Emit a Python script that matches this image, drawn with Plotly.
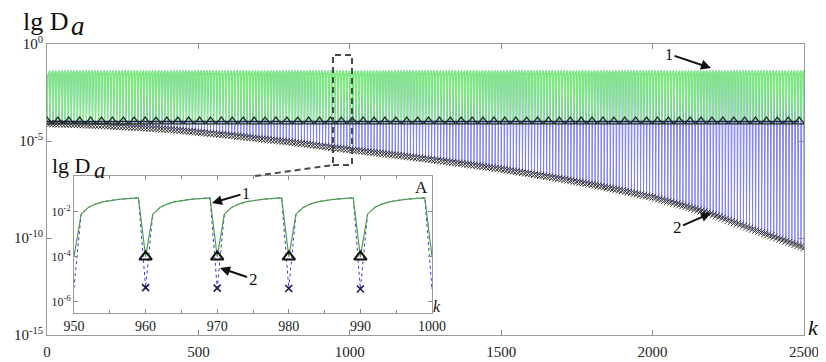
import numpy as np
import plotly.graph_objects as go

# ------------------------------------------------------------------ data
K_MAX = 2500
PERIOD = 10
curve1_period_lg = [-4.0, -2.1, -1.8, -1.65, -1.55, -1.49, -1.45, -1.42, -1.39, -1.37]
# lg D_a of curve 2 at its minima (the "x" markers), read every 100 steps
minima_k = [0, 100, 200, 300, 400, 500, 600, 700, 800, 900, 1000, 1100, 1200,
            1300, 1400, 1500, 1600, 1700, 1800, 1900, 2000, 2100, 2200, 2300,
            2400, 2500]
minima_lg = [-4.10, -4.15, -4.22, -4.30, -4.40, -4.55, -4.70, -4.88, -5.05,
             -5.25, -5.45, -5.63, -5.82, -6.02, -6.23, -6.45, -6.70, -6.96,
             -7.25, -7.56, -7.90, -8.33, -8.80, -9.38, -9.95, -10.50]
# level of the triangle markers (minima of curve 1)
triangle_level_lg = -4.0
triangle_k_main = list(range(0, 2501, 36))
inset_marker_k = [960, 970, 980, 990]

main_x_ticks = [0, 500, 1000, 1500, 2000, 2500]
main_y_ticks = [1e-15, 1e-10, 1e-5, 1.0]
main_y_ticktext = ["10<sup>-15</sup>", "10<sup>-10</sup>", "10<sup>-5</sup>", "10<sup>0</sup>"]
inset_x_ticks = [950, 960, 970, 980, 990, 1000]
inset_y_ticks = [1e-6, 1e-4, 1e-2]
inset_y_ticktext = ["10<sup>-6</sup>", "10<sup>-4</sup>", "10<sup>-2</sup>"]

# ------------------------------------------------------------------ series
k = np.arange(0, K_MAX + 1)
n_periods = len(k) // PERIOD + 1
curve1_lg = np.tile(curve1_period_lg, n_periods)[:len(k)]
curve2_lg = curve1_lg.copy()
is_min = (k % PERIOD) == 0
curve2_lg[is_min] = np.interp(k[is_min], minima_k, minima_lg)
curve1 = 10.0 ** curve1_lg
curve2 = 10.0 ** curve2_lg

min_k = k[is_min]
min_v = curve2[is_min]
tri_y_main = [10.0 ** triangle_level_lg] * len(triangle_k_main)
ins_tri_y = [curve1[kk] for kk in inset_marker_k]
ins_x_y = [curve2[kk] for kk in inset_marker_k]

# ------------------------------------------------------------------ geometry helpers
# the page body has an 8px margin, so the figure is drawn 8px smaller and
# everything below is expressed in the target picture's pixel coordinates
OFF = 8
W_FIG, H_FIG = 826 - OFF, 362 - OFF
L, T, R, B = 47, 44, 22, 27          # plot box in target pixels
PW, PH = 826 - L - R, 362 - T - B


def px(x):
    return (x - L) / PW


def py(y):
    return (T + PH - y) / PH


SERIF = "Liberation Serif"

fig = go.Figure()

# main panel
fig.add_trace(go.Scatter(x=k, y=curve2, mode="lines",
                         line=dict(color="#8080f0", width=1), xaxis="x", yaxis="y"))
fig.add_trace(go.Scatter(x=k, y=curve1, mode="lines",
                         line=dict(color="#78ee78", width=1.3), xaxis="x", yaxis="y"))
fig.add_trace(go.Scatter(x=min_k, y=min_v, mode="markers",
                         marker=dict(symbol="x-thin-open", size=7, color="#333333",
                                     line=dict(width=1, color="#333333")),
                         xaxis="x", yaxis="y"))
fig.add_trace(go.Scatter(x=triangle_k_main, y=tri_y_main, mode="lines+markers",
                         line=dict(color="#1c1c50", width=1.5),
                         marker=dict(symbol="triangle-up-open", size=9,
                                     color="#1a2e1a", line=dict(width=1.3)),
                         xaxis="x", yaxis="y"))

# inset A
fig.add_trace(go.Scatter(x=k, y=curve2, mode="lines",
                         line=dict(color="#3c3cd0", width=1, dash="dot"),
                         xaxis="x2", yaxis="y2"))
fig.add_trace(go.Scatter(x=k, y=curve1, mode="lines",
                         line=dict(color="#4c9e4c", width=1.2),
                         xaxis="x2", yaxis="y2"))
fig.add_trace(go.Scatter(x=inset_marker_k, y=ins_tri_y, mode="markers",
                         marker=dict(symbol="triangle-up-open", size=11, color="#111111",
                                     line=dict(width=2, color="#111111")),
                         xaxis="x2", yaxis="y2"))
fig.add_trace(go.Scatter(x=inset_marker_k, y=ins_x_y, mode="markers",
                         marker=dict(symbol="x-thin-open", size=7, color="#1a1a50",
                                     line=dict(width=1.6, color="#1a1a50")),
                         xaxis="x2", yaxis="y2"))

axis_common = dict(showgrid=False, zeroline=False, showline=True, linecolor="#9a9a9a",
                   linewidth=1, ticks="inside", tickcolor="#8a8a8a", mirror="ticks",
                   automargin=False)

ins_x0, ins_x1 = px(74), px(432)
ins_y0, ins_y1 = py(313), py(176)

fig.update_layout(
    width=W_FIG, height=H_FIG, template="none",
    margin=dict(l=L - OFF, r=R, t=T - OFF, b=B, pad=0),
    paper_bgcolor="white", plot_bgcolor="white",
    showlegend=False, hovermode=False,
    font=dict(family=SERIF, color="#222222"),
    xaxis=dict(domain=[0, 1], range=[0, K_MAX], tickvals=main_x_ticks, ticklen=5,
               ticklabelstandoff=3,
               tickfont=dict(size=15, family=SERIF), anchor="y", **axis_common),
    yaxis=dict(domain=[0, 1], type="log", range=[-15, 0], tickvals=main_y_ticks,
               ticktext=main_y_ticktext, ticklen=5,
               tickfont=dict(size=15, family=SERIF), anchor="x", **axis_common),
    xaxis2=dict(domain=[ins_x0, ins_x1], range=[950, 1000], tickvals=inset_x_ticks,
                ticklen=4, tickfont=dict(size=14, family=SERIF), anchor="y2",
                minor=dict(ticks="inside", ticklen=3, dtick=5, tick0=950,
                           tickcolor="#8a8a8a"),
                **axis_common),
    yaxis2=dict(domain=[ins_y0, ins_y1], type="log", range=[-6.5, -0.4],
                tickvals=inset_y_ticks, ticktext=inset_y_ticktext, ticklen=4,
                tickfont=dict(size=12, family=SERIF), anchor="x2", **axis_common),
)

dash_col = "#4a4a4a"
fig.add_shape(type="rect", xref="paper", yref="paper",
              x0=px(333), x1=px(352), y0=py(165), y1=py(55),
              line=dict(color=dash_col, width=2, dash="6px,4px"))
fig.add_shape(type="line", xref="paper", yref="paper",
              x0=px(255), y0=py(176), x1=px(333), y1=py(165),
              line=dict(color=dash_col, width=2, dash="6px,4px"))


def text(x, y, s, size, italic=False, xanchor="center", yanchor="middle"):
    fig.add_annotation(x=px(x), y=py(y), xref="paper", yref="paper", text=s,
                       showarrow=False, xanchor=xanchor, yanchor=yanchor,
                       borderpad=0,
                       font=dict(family=SERIF, size=size, color="#111111",
                                 style="italic" if italic else "normal"))


def arrow(tx, ty, hx, hy, s, size):
    fig.add_annotation(x=px(hx), y=py(hy), xref="paper", yref="paper", text=s,
                       showarrow=True, ax=tx - hx, ay=ty - hy, axref="pixel", ayref="pixel",
                       arrowhead=2, arrowsize=1, arrowwidth=2, arrowcolor="#111111",
                       standoff=0, font=dict(family=SERIF, size=size, color="#111111"))


# titles
text(22, 21, "lg D", 26, xanchor="left")
text(70, 26, "a", 27, italic=True, xanchor="left")
text(51, 165, "lg D", 22, xanchor="left")
text(93, 170, "a", 23, italic=True, xanchor="left")
text(813, 327, "k", 22, italic=True)
text(437, 306, "k", 16, italic=True)
text(421, 187, "A", 17)

arrow(669, 54, 711, 68, "1", 16)
arrow(677, 228, 711, 213, "2", 17)
arrow(246, 193, 212, 203, "1", 16)
arrow(253, 279, 220, 268, "2", 17)

fig.write_html("out.html")
